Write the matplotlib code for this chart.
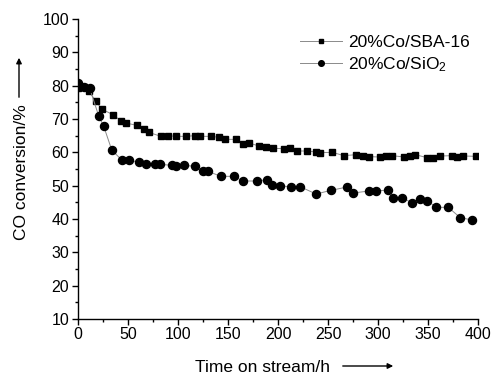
import matplotlib
matplotlib.use("Agg")
import matplotlib.pyplot as plt
from matplotlib.ticker import MultipleLocator

plt.rcParams['font.family'] = ['Liberation Sans', 'DejaVu Sans']
plt.rcParams['mathtext.default'] = 'regular'

sba_x = [0, 6, 11, 18, 24, 35, 43, 48, 59, 66, 71, 83, 90, 98, 108, 117, 122, 133, 141, 147,
         158, 165, 171, 181, 188, 195, 206, 212, 219, 229, 238, 242, 254, 266, 278, 285, 291,
         302, 308, 314, 326, 332, 337, 349, 355, 362, 374, 379, 385, 398]
sba_y = [79.2, 79.5, 78.4, 75.4, 73.0, 71.3, 69.5, 68.8, 68.1, 67.1, 66.0, 64.8, 65.0, 64.8,
         64.8, 65.0, 64.8, 64.8, 64.5, 63.9, 63.9, 62.5, 62.8, 61.9, 61.6, 61.2, 61.1, 61.4,
         60.4, 60.4, 60.1, 59.9, 60.0, 59.0, 59.3, 59.0, 58.7, 58.6, 59.0, 59.0, 58.6, 58.8,
         59.3, 58.4, 58.4, 58.9, 59.0, 58.7, 58.9, 58.8]

sio_x = [0, 6, 12, 21, 26, 34, 44, 51, 61, 68, 77, 82, 94, 98, 106, 117, 125, 130, 143, 156,
         165, 179, 189, 194, 202, 213, 222, 238, 253, 269, 275, 291, 298, 310, 315, 324, 334,
         342, 349, 358, 370, 382, 394]
sio_y = [80.9, 79.5, 79.2, 70.9, 67.8, 60.7, 57.7, 57.6, 57.1, 56.4, 56.5, 56.4, 56.1, 56.0,
         56.1, 55.8, 54.3, 54.3, 52.8, 52.8, 51.4, 51.4, 51.8, 50.3, 49.9, 49.7, 49.7, 47.5,
         48.6, 49.6, 47.8, 48.4, 48.4, 48.7, 46.4, 46.4, 44.8, 46.1, 45.5, 43.5, 43.5, 40.4,
         39.7]

labels = ['20%Co/SBA-16', '20%Co/SiO$_2$']
x_ticks = [0, 50, 100, 150, 200, 250, 300, 350, 400]
y_ticks = [10, 20, 30, 40, 50, 60, 70, 80, 90, 100]

W, H = 494, 376
fig = plt.figure(figsize=(W / 100, H / 100), dpi=100)
ax = fig.add_axes([77.7 / W, (H - 319) / H, 400.6 / W, 300 / H])

line_kw = dict(color='#8a8a8a', lw=0.7, markerfacecolor='black', markeredgecolor='black')
h1, = ax.plot(sba_x, sba_y, marker='s', markersize=5, label=labels[0], **line_kw)
h2, = ax.plot(sio_x, sio_y, marker='o', markersize=5.8, label=labels[1], **line_kw)

ax.set_xlim(0, 400)
ax.set_ylim(10, 100)
ax.set_xticks(x_ticks)
ax.set_yticks(y_ticks)
ax.xaxis.set_minor_locator(MultipleLocator(25))
ax.yaxis.set_minor_locator(MultipleLocator(5))
ax.tick_params(which='major', direction='out', length=4, width=1, labelsize=11.5, pad=2)
ax.tick_params(which='minor', direction='out', length=2.5, width=1)
for s in ['top', 'right']:
    ax.spines[s].set_visible(False)
for s in ['left', 'bottom']:
    ax.spines[s].set_linewidth(1)

leg = fig.legend(handles=[h1, h2], loc='upper left', bbox_to_anchor=(300 / W, 1 - 35 / H),
                 frameon=False, fontsize=12.5, handlelength=2.4, handletextpad=0.35,
                 labelspacing=0.28, borderpad=0, borderaxespad=0, markerscale=0.7)

# y label and arrow
fig.text(21 / W, 1 - 172 / H, 'CO conversion/%', rotation=90, ha='center', va='center', fontsize=12.5)
fig.add_artist(matplotlib.patches.FancyArrowPatch((19 / W, 1 - 100 / H), (19 / W, 1 - 55 / H),
               transform=fig.transFigure, arrowstyle='-|>', mutation_scale=8, lw=1, color='black'))

# x label and arrow
fig.text(262 / W, 1 - 367 / H, 'Time on stream/h', ha='center', va='center', fontsize=12.5)
fig.add_artist(matplotlib.patches.FancyArrowPatch((340 / W, 1 - 366 / H), (396 / W, 1 - 366 / H),
               transform=fig.transFigure, arrowstyle='-|>', mutation_scale=8, lw=1, color='black'))

fig.savefig('out.png', dpi=100)
